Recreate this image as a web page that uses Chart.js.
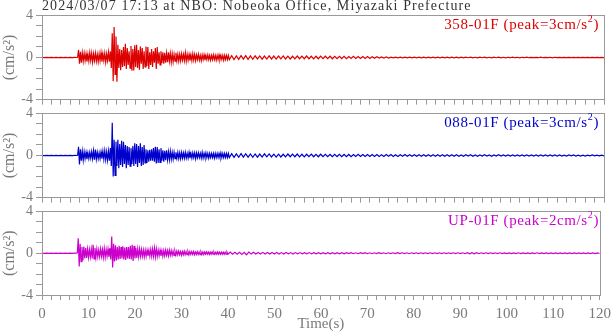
<!DOCTYPE html>
<html><head><meta charset="utf-8">
<script src="https://cdn.jsdelivr.net/npm/chart.js@4"></script>
<style>
html,body{margin:0;padding:0;background:#fff;}
#wrap{position:relative;width:616px;height:334px;overflow:hidden;font-family:"Liberation Serif",serif;}
canvas{position:absolute;left:0;}
.lbl{position:absolute;right:17px;font-size:15px;line-height:15px;letter-spacing:0.6px;white-space:nowrap;z-index:5;}
.lbl sup{font-size:10px;line-height:0;vertical-align:top;position:relative;top:2px;}
#title{position:absolute;left:42px;top:-1px;font-size:14px;line-height:14px;color:#333;letter-spacing:1.1px;white-space:nowrap;z-index:5;}
</style></head><body>
<div id="wrap">
<div id="title">2024/03/07 17:13 at NBO: Nobeoka Office, Miyazaki Prefecture</div>
<div class="lbl" id="l1" style="top:17px;color:#dd0000">358-01F (peak=3cm/s<sup>2</sup>)</div>
<div class="lbl" id="l2" style="top:115px;color:#0000cc">088-01F (peak=3cm/s<sup>2</sup>)</div>
<div class="lbl" id="l3" style="top:213px;color:#cc00cc">UP-01F (peak=2cm/s<sup>2</sup>)</div>
<canvas id="c1" width="616" height="120"></canvas>
<canvas id="c2" width="616" height="120"></canvas>
<canvas id="c3" width="616" height="140"></canvas>
</div>
<script>
// ---- data (cm/s^2) ----
const preStart = 0, preStep = 0.5;          // samples 0 s .. 7.0 s (before the event)
const strongStart = 7.4, strongStep = 0.2;  // samples 7.4 s .. 40.0 s
const codaStart = 40.5, codaStep = 0.5;     // samples 40.5 s .. 120 s

const xTickLabels = [0,10,20,30,40,50,60,70,80,90,100,110,120];
const yTickLabels = [-4,0,4];

const ns358Pre = [0.01,-0.01,0.01,-0.01,0.01,-0.01,0.01,-0.01,0.01,-0.01,0.01,-0.01,0.01,-0.01,0.01];
const ns358Strong = [
0,0.02,0.72,-0.6,0.55, -0.5,0.45,-0.35,0.4,-0.3, 0.35,-0.4,0.3,-0.35,0.45, -0.3,0.4,-0.45,0.35,-0.3,
0.4,-0.35,0.3,-0.4,0.35, -0.3,0.45,-0.4,0.35,-0.3, 0.4,-0.45,0.35,-0.3,0.5, -0.4,0.6,-1.0,2.3,-2.25,
2.9,-1.6,2.0,-2.3,1.2, -1.0,0.8,-1.2,0.7,-0.9, 1.0,-0.8,1.3,-1.1,0.9, -0.7,0.6,-1.0,1.1,-1.25,
0.8,-1.24,1.15,-0.9,1.2, -1.0,0.7,-1.15,1.05,-0.6, 0.9,-1.1,0.6,-0.9,1.05, -0.8,1.0,-1.1,0.5,-0.7,
0.8,-0.9,0.6,-0.5,0.9, -1.1,1.0,-0.6,0.5,-0.7, 0.6,-0.55,0.5,-0.6,0.45, -0.5,0.4,-0.45,0.5,-0.35,
0.4,-0.45,0.35,-0.4,0.3, -0.35,0.45,-0.3,0.3,-0.35, 0.3,-0.3,0.35,-0.25,0.3, -0.3,0.45,-0.35,0.3,-0.25,
0.3,-0.3,0.25,-0.3,0.35, -0.25,0.3,-0.3,0.25,-0.2, 0.3,-0.25,0.2,-0.3,0.25, -0.2,0.25,-0.25,0.2,-0.2,
0.25,-0.2,0.2,-0.25,0.2, -0.2,0.25,-0.2,0.2,-0.25, 0.2,-0.2,0.25,-0.2,0.2, -0.2,0.2,-0.25,0.2,-0.2,
0.2,-0.2,0.2,-0.2];
const ns358Coda = [
0.18,-0.2,0.16,-0.18,0.17,-0.16,0.18,-0.17,0.16,-0.17,
0.16,-0.14,0.15,-0.16,0.14,-0.15,0.16,-0.14,0.14,-0.15,
0.14,-0.13,0.15,-0.14,0.13,-0.14,0.12,-0.13,0.14,-0.12,
0.13,-0.12,0.14,-0.12,0.12,-0.13,0.12,-0.12,0.13,-0.11,
0.12,-0.11,0.12,-0.12,0.1,-0.12,0.11,-0.1,0.12,-0.11,
0.1,-0.1,0.11,-0.09,0.1,-0.1,0.09,-0.1,0.1,-0.09,
0.08,-0.08,0.07,-0.06,0.06,-0.05,0.05,-0.05,0.04,-0.04,
0.04,-0.04,0.03,-0.04,0.04,-0.03,0.04,-0.04,0.03,-0.03,
0.03,-0.03,0.04,-0.03,0.03,-0.03,0.03,-0.04,0.03,-0.03,
0.03,-0.03,0.03,-0.03,0.04,-0.03,0.03,-0.03,0.03,-0.03,
0.03,-0.02,0.03,-0.03,0.02,-0.03,0.03,-0.02,0.03,-0.03,
0.02,-0.03,0.03,-0.02,0.03,-0.03,0.02,-0.03,0.02,-0.02,
0.03,-0.02,0.02,-0.03,0.02,-0.02,0.03,-0.02,0.02,-0.02,
0.02,-0.02,0.03,-0.02,0.02,-0.02,0.02,-0.03,0.02,-0.02,
0.02,-0.02,0.02,-0.02,0.02,-0.02,0.02,-0.02,0.02,-0.02,
0.02,-0.02,0.02,-0.02,0.02,-0.02,0.02,-0.02,0.02,-0.02];

const ew088Pre = [0.01,-0.01,0.01,-0.01,0.01,-0.01,0.01,-0.01,0.01,-0.01,0.01,-0.01,0.01,-0.01,0.01];
const ew088Strong = [
0,0.03,0.83,-0.86,0.6, -0.5,0.4,-0.45,0.35,-0.3, 0.3,-0.35,0.25,-0.3,0.3, -0.25,0.35,-0.3,0.45,-0.4,
0.57,-0.35,0.3,-0.3,0.25, -0.3,0.35,-0.3,0.4,-0.35, 0.45,-0.4,0.35,-0.45,0.4, -0.5,0.7,-1.0,3.1,-2.0,
1.5,-1.9,1.3,-1.0,1.5, -1.2,1.1,-0.9,1.4,-1.1, 1.3,-0.8,1.0,-1.2,0.9, -0.9,0.8,-1.0,0.7,-0.8,
0.9,-1.0,1.15,-0.8,1.1, -1.1,0.9,-0.7,1.15,-1.0, 0.8,-0.9,1.0,-0.7,0.6, -0.7,0.5,-0.6,0.55,-0.5,
0.6,-0.5,0.7,-0.6,0.83, -0.76,0.8,-0.7,0.6,-0.65, 0.7,-0.5,0.5,-0.6,0.45, -0.45,0.5,-0.4,0.35,-0.4,
0.4,-0.35,0.3,-0.35,0.3, -0.3,0.3,-0.25,0.3,-0.3, 0.25,-0.3,0.3,-0.25,0.25, -0.25,0.3,-0.25,0.2,-0.25,
0.3,-0.25,0.2,-0.25,0.25, -0.2,0.25,-0.3,0.25,-0.2, 0.25,-0.2,0.2,-0.25,0.3, -0.25,0.2,-0.2,0.25,-0.2,
0.2,-0.25,0.2,-0.2,0.2, -0.2,0.2,-0.25,0.2,-0.2, 0.2,-0.2,0.2,-0.2,0.25, -0.2,0.2,-0.2,0.2,-0.2,
0.2,-0.2,0.2,-0.2];
const ew088Coda = [
0.17,-0.18,0.15,-0.17,0.18,-0.15,0.17,-0.16,0.15,-0.17,
0.15,-0.16,0.14,-0.15,0.16,-0.13,0.15,-0.14,0.13,-0.15,
0.13,-0.14,0.12,-0.13,0.14,-0.12,0.13,-0.12,0.14,-0.13,
0.12,-0.13,0.12,-0.11,0.13,-0.12,0.11,-0.12,0.12,-0.11,
0.11,-0.12,0.1,-0.11,0.12,-0.1,0.11,-0.11,0.1,-0.12,
0.1,-0.11,0.1,-0.1,0.11,-0.09,0.1,-0.1,0.09,-0.1,
0.1,-0.09,0.09,-0.1,0.08,-0.09,0.09,-0.08,0.09,-0.09,
0.08,-0.09,0.08,-0.08,0.09,-0.08,0.08,-0.08,0.07,-0.08,
0.08,-0.07,0.08,-0.08,0.07,-0.08,0.07,-0.07,0.08,-0.07,
0.07,-0.08,0.07,-0.07,0.08,-0.07,0.07,-0.07,0.06,-0.07,
0.07,-0.06,0.07,-0.07,0.06,-0.07,0.06,-0.06,0.07,-0.06,
0.06,-0.07,0.06,-0.06,0.07,-0.06,0.06,-0.06,0.05,-0.06,
0.06,-0.05,0.06,-0.06,0.05,-0.06,0.05,-0.05,0.06,-0.05,
0.05,-0.06,0.05,-0.05,0.06,-0.05,0.05,-0.05,0.05,-0.05,
0.05,-0.05,0.04,-0.05,0.05,-0.04,0.05,-0.05,0.04,-0.05,
0.04,-0.05,0.04,-0.04,0.05,-0.04,0.04,-0.04,0.04,-0.04];

const upPre = [0.01,-0.01,0.01,-0.01,0.01,-0.01,0.01,-0.01,0.01,-0.01,0.01,-0.01,0.01,-0.01,0.01];
const upStrong = [
0,0.03,1.43,-1.27,0.9, -0.8,0.6,-0.7,0.63,-0.5, 0.5,-0.45,0.4,-0.4,0.35, -0.35,0.4,-0.5,0.8,-0.55,
0.5,-0.4,0.4,-0.35,0.3, -0.35,0.4,-0.3,0.35,-0.4, 0.45,-0.4,0.35,-0.3,0.4, -0.35,0.5,-0.6,1.6,-1.37,
0.9,-0.8,0.75,-0.7,0.6, -0.6,0.7,-0.55,0.6,-0.5, 0.65,-0.6,0.55,-0.65,0.6, -0.5,0.6,-0.55,0.7,-0.6,
0.8,-0.75,0.7,-0.5,0.5, -0.45,0.4,-0.35,0.4,-0.3, 0.35,-0.3,0.3,-0.35,0.3, -0.3,0.3,-0.25,0.3,-0.3,
0.35,-0.3,0.4,-0.3,0.5, -0.35,0.4,-0.3,0.3,-0.25, 0.3,-0.25,0.25,-0.3,0.25, -0.25,0.3,-0.2,0.25,-0.25,
0.3,-0.2,0.25,-0.2,0.2, -0.2,0.2,-0.2,0.2,-0.15, 0.2,-0.15,0.15,-0.2,0.15, -0.15,0.2,-0.15,0.15,-0.15,
0.15,-0.15,0.15,-0.12,0.15, -0.12,0.15,-0.15,0.12,-0.12, 0.15,-0.12,0.12,-0.15,0.12, -0.12,0.12,-0.12,0.12,-0.1,
0.12,-0.1,0.1,-0.12,0.1, -0.1,0.12,-0.1,0.1,-0.1, 0.1,-0.1,0.12,-0.1,0.1, -0.1,0.1,-0.1,0.1,-0.1,
0.1,-0.1,0.1,-0.1];
const upCoda = [
0.1,-0.1,0.08,-0.1,0.09,-0.12,0.08,-0.15,0.1,-0.08,
0.08,-0.08,0.07,-0.08,0.08,-0.07,0.07,-0.08,0.07,-0.07,
0.07,-0.07,0.06,-0.07,0.07,-0.06,0.06,-0.07,0.06,-0.06,
0.06,-0.06,0.05,-0.06,0.06,-0.05,0.05,-0.06,0.05,-0.05,
0.05,-0.05,0.05,-0.05,0.05,-0.05,0.05,-0.05,0.05,-0.05,
0.05,-0.04,0.05,-0.05,0.04,-0.05,0.05,-0.04,0.05,-0.05,
0.04,-0.05,0.04,-0.04,0.05,-0.04,0.04,-0.05,0.04,-0.04,
0.04,-0.04,0.05,-0.04,0.04,-0.04,0.04,-0.05,0.04,-0.04,
0.04,-0.04,0.04,-0.04,0.04,-0.04,0.04,-0.04,0.04,-0.04,
0.04,-0.04,0.04,-0.04,0.04,-0.04,0.04,-0.04,0.04,-0.04,
0.04,-0.05,0.05,-0.06,0.05,-0.06,0.05,-0.05,0.04,-0.04,
0.04,-0.04,0.04,-0.04,0.04,-0.03,0.04,-0.04,0.03,-0.04,
0.03,-0.04,0.03,-0.03,0.04,-0.03,0.03,-0.04,0.03,-0.03,
0.03,-0.03,0.04,-0.03,0.03,-0.03,0.03,-0.03,0.03,-0.03,
0.03,-0.03,0.03,-0.03,0.03,-0.03,0.03,-0.03,0.03,-0.03,
0.03,-0.03,0.03,-0.03,0.03,-0.03,0.03,-0.03,0.03,-0.03];

// ---- build series from sample arrays ----
function series(pre, strong, coda){
  const pts = [];
  pre.forEach((v,i)=>pts.push({x: +(preStart + i*preStep).toFixed(2), y: v}));
  strong.forEach((v,i)=>pts.push({x: +(strongStart + i*strongStep).toFixed(2), y: v}));
  coda.forEach((v,i)=>pts.push({x: +(codaStart + i*codaStep).toFixed(2), y: v}));
  return pts;
}

const GRAY = '#999';
const TICKC = '#7a7a7a';
const FONT = 'Liberation Serif';

const framePlugin = {
  id: 'frame',
  afterDraw(chart){
    const {ctx, chartArea: a} = chart;
    ctx.save();
    ctx.strokeStyle = GRAY; ctx.lineWidth = 1;
    ctx.strokeRect(Math.round(a.left)+0.5, Math.round(a.top)+0.5,
                   Math.round(a.right-a.left), Math.round(a.bottom-a.top));
    ctx.restore();
  }
};

function config(data, color, bottomAxis){
  return {
    type: 'line',
    data: { datasets: [{ data, borderColor: color, backgroundColor: color, borderWidth: 1.2,
                         pointRadius: 0, tension: 0, fill: false, normalized: true }] },
    plugins: [framePlugin],
    options: {
      responsive: false, maintainAspectRatio: false, animation: false, events: [],
      layout: { padding: { top: 0, right: 12, left: 0, bottom: 0 } },
      plugins: { legend: { display: false }, tooltip: { enabled: false } },
      scales: {
        x: {
          type: 'linear', min: 0, max: 120,
          afterFit: s => { s.height = bottomAxis ? 39 : 6; },
          border: { display: false },
          grid: { drawOnChartArea: false, drawTicks: true, tickLength: 5, color: GRAY },
          ticks: {
            stepSize: 2, autoSkip: false, maxRotation: 0, padding: 5,
            color: TICKC, font: { family: FONT, size: 15 },
            callback: v => (bottomAxis && xTickLabels.includes(v)) ? String(v) : ''
          },
          title: { display: bottomAxis, text: 'Time(s)', color: TICKC,
                   font: { family: FONT, size: 15 }, padding: { top: 0, bottom: 1 } }
        },
        y: {
          min: -4, max: 4,
          afterFit: s => { s.width = 42; },
          border: { display: false },
          grid: { drawOnChartArea: false, drawTicks: true, tickLength: 6, color: GRAY },
          ticks: {
            stepSize: 1, autoSkip: false, padding: 3,
            color: TICKC, font: { family: FONT, size: 14 },
            callback: v => yTickLabels.includes(v) ? String(v) : ''
          },
          title: { display: true, text: '(cm/s²)', color: TICKC,
                   font: { family: FONT, size: 16 }, padding: { top: 0, bottom: 0 } }
        }
      }
    }
  };
}

// place each panel so its plot box lands on the wanted pixel rows
function panel(id, data, color, plotTop, plotBottom, bottomAxis){
  const cv = document.getElementById(id);
  let ch = new Chart(cv, config(data.map(p=>({...p})), color, bottomAxis));
  const padT = ch.chartArea.top, padB = ch.height - ch.chartArea.bottom;
  ch.destroy();
  cv.width = 616;
  cv.height = Math.round(plotBottom - plotTop + padT + padB);
  cv.style.top = Math.round(plotTop - padT) + 'px';
  return new Chart(cv, config(data, color, bottomAxis));
}

panel('c1', series(ns358Pre, ns358Strong, ns358Coda), '#dd0000', 15, 99, false);
panel('c2', series(ew088Pre, ew088Strong, ew088Coda), '#0000cc', 113, 197, false);
panel('c3', series(upPre, upStrong, upCoda), '#cc00cc', 211, 295, true);
</script>
</body></html>
